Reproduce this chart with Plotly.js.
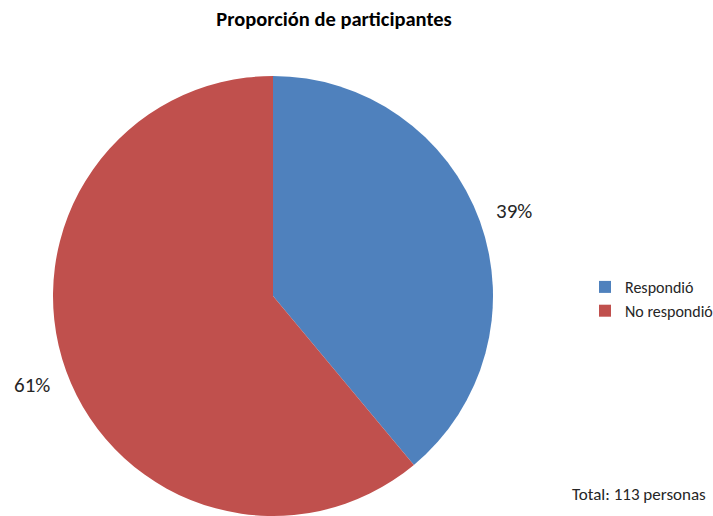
<!DOCTYPE html>
<html>
<head>
<meta charset="utf-8">
<script src="https://cdn.plot.ly/plotly-3.0.1.min.js"></script>
<style>html,body{margin:0;padding:0;background:#fff;}#chart{width:713px;height:516px;}</style>
</head>
<body>
<div id="chart"></div>
<script>
const categories = ["Respondió", "No respondió"];
const values = [44, 69];
const colors = ["#4F81BD", "#C0504D"];
const titleText = "Proporción de participantes";
const noteText = "Total: 113 personas";

const W = 713, H = 516;
const cx = 273, cy = 296, R = 220;
const font = "Carlito, Calibri, Lato, 'Open Sans', sans-serif";

const total = values.reduce((a, b) => a + b, 0);
const annotations = [];
let cum = 0;
values.forEach((v, i) => {
  const frac = v / total;
  const mid = (cum + frac / 2) * 2 * Math.PI;
  cum += frac;
  const rl = R + 36;
  const px = cx + rl * Math.sin(mid);
  const py = cy - rl * Math.cos(mid) + 2;
  annotations.push({
    text: Math.round(frac * 100) + "%",
    x: px / W, y: 1 - py / H, xref: "paper", yref: "paper",
    xanchor: "center", yanchor: "middle", showarrow: false,
    font: {family: font, size: 21, color: "#262626"}
  });
});
annotations.push({
  text: noteText, x: 639 / W, y: 1 - 494 / H, xref: "paper", yref: "paper",
  xanchor: "center", yanchor: "middle", showarrow: false,
  font: {family: font, size: 17, color: "#262626"}
});

const data = [{
  type: "pie",
  labels: categories,
  values: values,
  marker: {colors: colors, line: {width: 0}},
  sort: false,
  direction: "clockwise",
  rotation: 0,
  textinfo: "none",
  hoverinfo: "label+percent",
  domain: {x: [(cx - R) / W, (cx + R) / W], y: [1 - (cy + R) / H, 1 - (cy - R) / H]}
}];

const layout = {
  width: W, height: H,
  margin: {l: 0, r: 0, t: 0, b: 0, autoexpand: false},
  paper_bgcolor: "#fff",
  font: {family: font, color: "#262626"},
  title: {text: "<b>" + titleText + "</b>", x: 334 / W, xanchor: "center", y: 1 - 19 / H, yanchor: "middle",
          font: {family: font, size: 20.5, color: "#000"}},
  showlegend: true,
  legend: {x: 585 / W, y: 1 - 270 / H, xanchor: "left", yanchor: "top",
           font: {family: font, size: 16, color: "#262626"}, itemwidth: 30, tracegroupgap: 0},
  annotations: annotations
};

Plotly.newPlot("chart", data, layout, {displayModeBar: false, staticPlot: true});
</script>
</body>
</html>
